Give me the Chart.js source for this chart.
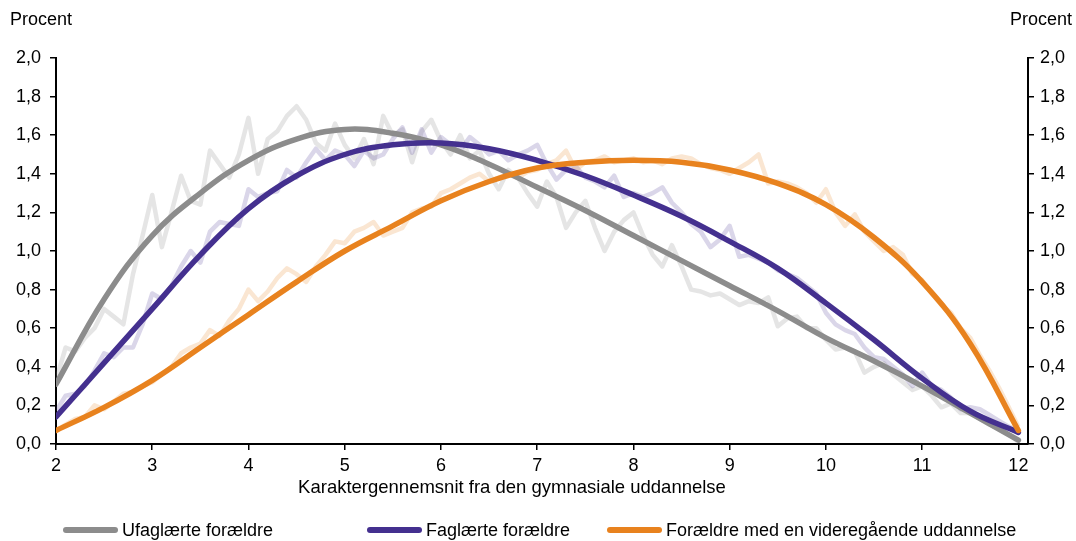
<!DOCTYPE html>
<html>
<head>
<meta charset="utf-8">
<script src="https://cdn.jsdelivr.net/npm/chart.js@4"></script>
<style>
html,body{margin:0;padding:0;background:#fff;}
#wrap{position:relative;width:1076px;height:541px;overflow:hidden;}
#c{position:absolute;left:0;top:0;}
.lg{position:absolute;top:518px;height:24px;font:18px 'Liberation Sans',Arial,sans-serif;color:#000;white-space:nowrap;line-height:24px;}
.lg .sw{position:absolute;left:0;top:9px;width:55px;height:6px;border-radius:3px;}
.lg .tx{position:absolute;top:0;}
</style>
</head>
<body>
<div id="wrap"><canvas id="c" width="1076" height="541"></canvas><div id="legend"></div></div>
<script>
// ---- data ----
const seriesNames = ["Ufaglærte forældre", "Faglærte forældre", "Forældre med en videregående uddannelse"];
const xTitle = "Karaktergennemsnit fra den gymnasiale uddannelse";
const yTitle = "Procent";
const xTicks = [2,3,4,5,6,7,8,9,10,11,12];
const yTicks = [0,0.2,0.4,0.6,0.8,1.0,1.2,1.4,1.6,1.8,2.0];

// smoothed curves, x = 2, 2.5, ..., 12
const smoothX = [2,2.5,3,3.5,4,4.5,5,5.5,6,6.5,7,7.5,8,8.5,9,9.5,10,10.5,11,11.5,12];
const ufagSmooth = [0.31,0.75,1.08,1.30,1.47,1.58,1.63,1.61,1.55,1.45,1.33,1.21,1.08,0.95,0.82,0.69,0.55,0.43,0.30,0.16,0.02];
const fagSmooth  = [0.14,0.42,0.70,0.98,1.22,1.39,1.50,1.55,1.56,1.53,1.47,1.39,1.29,1.18,1.05,0.91,0.73,0.54,0.34,0.17,0.06];
const videSmooth = [0.07,0.19,0.33,0.50,0.67,0.84,1.00,1.13,1.26,1.36,1.43,1.46,1.47,1.46,1.42,1.35,1.24,1.07,0.84,0.52,0.07];

// raw (faint) series, x = 2.0, 2.1, ..., 12.0
const rawX = [2.0,2.1,2.2,2.3,2.4,2.5,2.6,2.7,2.8,2.9,3.0,3.1,3.2,3.3,3.4,3.5,3.6,3.7,3.8,3.9,
4.0,4.1,4.2,4.3,4.4,4.5,4.6,4.7,4.8,4.9,5.0,5.1,5.2,5.3,5.4,5.5,5.6,5.7,5.8,5.9,
6.0,6.1,6.2,6.3,6.4,6.5,6.6,6.7,6.8,6.9,7.0,7.1,7.2,7.3,7.4,7.5,7.6,7.7,7.8,7.9,
8.0,8.1,8.2,8.3,8.4,8.5,8.6,8.7,8.8,8.9,9.0,9.1,9.2,9.3,9.4,9.5,9.6,9.7,9.8,9.9,
10.0,10.1,10.2,10.3,10.4,10.5,10.6,10.7,10.8,10.9,11.0,11.1,11.2,11.3,11.4,11.5,11.6,11.7,11.8,11.9,12.0];
const ufagRaw = [0.33,0.50,0.48,0.55,0.60,0.70,0.66,0.62,0.88,1.08,1.29,1.02,1.20,1.39,1.26,1.24,1.52,1.45,1.38,1.50,
1.69,1.40,1.58,1.62,1.70,1.75,1.68,1.56,1.52,1.66,1.55,1.48,1.58,1.45,1.70,1.60,1.63,1.46,1.62,1.68,
1.57,1.50,1.60,1.48,1.52,1.40,1.32,1.42,1.38,1.30,1.23,1.36,1.28,1.12,1.20,1.26,1.12,1.00,1.10,1.16,
1.20,1.08,0.98,0.92,1.03,0.92,0.80,0.79,0.77,0.78,0.75,0.72,0.74,0.73,0.76,0.61,0.65,0.66,0.60,0.60,
0.54,0.49,0.50,0.48,0.37,0.40,0.42,0.36,0.32,0.28,0.30,0.25,0.19,0.21,0.16,0.16,0.13,0.10,0.08,0.05,0.01];
const fagRaw = [0.17,0.25,0.26,0.30,0.38,0.47,0.45,0.50,0.50,0.62,0.78,0.75,0.82,0.92,1.00,0.94,1.10,1.15,1.14,1.13,
1.32,1.28,1.30,1.31,1.42,1.38,1.46,1.53,1.47,1.52,1.50,1.44,1.52,1.48,1.50,1.58,1.64,1.51,1.63,1.51,
1.59,1.55,1.52,1.59,1.55,1.50,1.52,1.47,1.50,1.52,1.55,1.45,1.37,1.42,1.44,1.38,1.36,1.33,1.39,1.28,
1.30,1.28,1.30,1.33,1.25,1.20,1.14,1.10,1.02,1.06,1.13,0.97,0.98,0.96,0.94,0.90,0.88,0.86,0.82,0.78,
0.68,0.62,0.59,0.57,0.50,0.45,0.44,0.40,0.36,0.30,0.37,0.30,0.28,0.24,0.18,0.19,0.18,0.15,0.12,0.09,0.07];
const videRaw = [0.07,0.10,0.13,0.14,0.20,0.18,0.22,0.26,0.27,0.30,0.32,0.36,0.40,0.47,0.50,0.52,0.59,0.56,0.64,0.70,
0.80,0.74,0.79,0.86,0.91,0.88,0.84,0.92,0.98,1.05,1.04,1.10,1.12,1.15,1.08,1.10,1.12,1.20,1.22,1.23,
1.30,1.32,1.35,1.38,1.40,1.36,1.38,1.40,1.38,1.41,1.42,1.45,1.47,1.52,1.42,1.46,1.47,1.49,1.46,1.47,
1.48,1.46,1.47,1.45,1.48,1.49,1.48,1.45,1.43,1.42,1.40,1.43,1.46,1.50,1.35,1.36,1.35,1.33,1.30,1.25,
1.32,1.20,1.13,1.19,1.10,1.05,1.00,1.02,0.98,0.88,0.85,0.78,0.72,0.68,0.60,0.55,0.46,0.38,0.29,0.19,0.09];

// ---- styling ----
const C_GRAY = '#8c8c8c', C_PURPLE = '#44308f', C_ORANGE = '#e8821e';
const F_GRAY = 'rgba(150,150,150,0.25)', F_PURPLE = 'rgba(68,48,143,0.2)', F_ORANGE = 'rgba(232,130,30,0.2)';
const FONT = "'Liberation Sans', Arial, sans-serif";
const mainColors = [C_GRAY, C_PURPLE, C_ORANGE];
const legendLeft = [63, 367, 607];

const pts = (xs, ys) => xs.map((x, i) => ({x: x, y: ys[i]}));
const smoothDs = (label, xs, ys, color, order) => ({
  label, data: pts(xs, ys), borderColor: color, backgroundColor: color,
  borderWidth: 5.5, tension: 0.4, pointRadius: 0, order, borderCapStyle: 'round'
});
const rawDs = (label, xs, ys, color, order) => ({
  label, data: pts(xs, ys), borderColor: color, backgroundColor: color,
  borderWidth: 4.5, tension: 0, pointRadius: 0, order, borderJoinStyle: 'round'
});

const textPlugin = {
  id: 'texts',
  afterDraw(chart) {
    const ctx = chart.ctx;
    ctx.save();
    ctx.font = "18px " + FONT;
    ctx.fillStyle = '#000';
    ctx.textBaseline = 'middle';
    ctx.textAlign = 'left';
    ctx.fillText(yTitle, 10, 20);
    ctx.textAlign = 'right';
    ctx.fillText(yTitle, 1072, 20);
    ctx.font = "18.5px " + FONT;
    ctx.textAlign = 'center';
    ctx.fillText(xTitle, 512, 488);
    ctx.restore();
  }
};

const yCommon = {
  type: 'linear', min: 0, max: 2,
  display: true,
  afterBuildTicks: s => { s.ticks = yTicks.map(v => ({value: v})); },
  grid: { display: true, drawOnChartArea: false, drawTicks: true, tickLength: 6, color: '#000', lineWidth: 1.5 },
  border: { display: true, color: '#000', width: 2 }
};
const yTickFmt = v => v.toFixed(1).replace('.', ',');

new Chart(document.getElementById('c'), {
  type: 'line',
  data: {
    datasets: [
      smoothDs(seriesNames[0], smoothX, ufagSmooth, C_GRAY, 3),
      smoothDs(seriesNames[1], smoothX, fagSmooth, C_PURPLE, 2),
      smoothDs(seriesNames[2], smoothX, videSmooth, C_ORANGE, 1),
      rawDs(seriesNames[0] + ' (rå)', rawX, ufagRaw, F_GRAY, 6),
      rawDs(seriesNames[1] + ' (rå)', rawX, fagRaw, F_PURPLE, 5),
      rawDs(seriesNames[2] + ' (rå)', rawX, videRaw, F_ORANGE, 4)
    ]
  },
  options: {
    responsive: false,
    animation: false,
    layout: { padding: { top: 58, bottom: 42, left: 0, right: 0 } },
    plugins: {
      tooltip: { enabled: false },
      legend: { display: false }
    },
    scales: {
      x: {
        type: 'linear', min: 2, max: 12.1,
        afterBuildTicks: s => { s.ticks = xTicks.map(v => ({value: v})); },
        ticks: { font: {family: FONT, size: 18}, color: '#000', padding: 5, maxRotation: 0 },
        grid: { display: true, drawOnChartArea: false, drawTicks: true, tickLength: 6, color: '#000', lineWidth: 1.5 },
        border: { display: true, color: '#000', width: 2 },
        afterFit: s => { s.height = 55; }
      },
      y: Object.assign({}, yCommon, {
        position: 'left',
        ticks: { callback: yTickFmt, font: {family: FONT, size: 18}, color: '#000', padding: 9 },
        afterFit: s => { s.width = 56; }
      }),
      y2: Object.assign({}, yCommon, {
        position: 'right',
        ticks: { callback: yTickFmt, font: {family: FONT, size: 18}, color: '#000', padding: 6 },
        afterFit: s => { s.width = 48; }
      })
    }
  },
  plugins: [textPlugin]
});

// legend (HTML, real text)
const lg = document.getElementById('legend');
seriesNames.forEach((name, i) => {
  const d = document.createElement('div');
  d.className = 'lg';
  d.style.left = legendLeft[i] + 'px';
  const sw = document.createElement('span');
  sw.className = 'sw';
  sw.style.background = mainColors[i];
  const tx = document.createElement('span');
  tx.className = 'tx';
  tx.style.left = '59px';
  tx.textContent = name;
  d.appendChild(sw); d.appendChild(tx);
  lg.appendChild(d);
});
</script>
</body>
</html>
